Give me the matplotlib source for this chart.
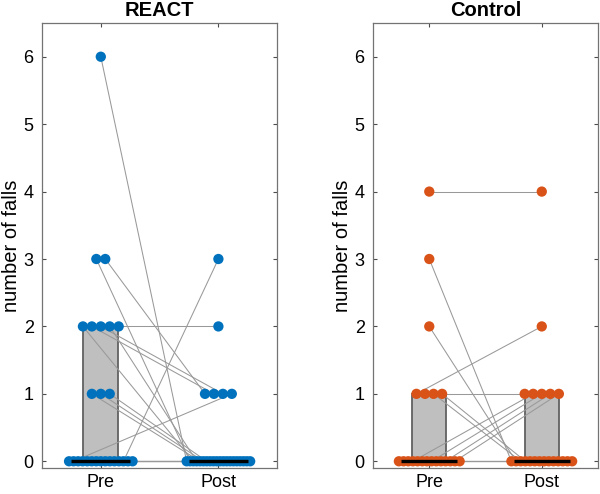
import matplotlib
matplotlib.use("Agg")
import matplotlib.pyplot as plt
import numpy as np
from matplotlib.patches import Rectangle

plt.rcParams['font.family'] = ['Liberation Sans', 'DejaVu Sans']

# --- Data: number of falls per subject (paired Pre / Post) ---
groups = ["REACT", "Control"]
timepoints = ["Pre", "Post"]

react_pre = [6, 3, 3, 2, 2, 2, 2, 2, 1, 1, 1,
             0, 0, 0, 0, 0, 0, 0, 0, 0, 0, 0, 0, 0, 0, 0]
react_post = [0, 0, 1, 0, 1, 1, 0, 2, 0, 0, 0,
              0, 1, 0, 0, 0, 0, 0, 0, 0, 0, 0, 0, 3, 0, 0]

control_pre = [4, 3, 2, 1, 1, 1, 1,
               0, 0, 0, 0, 0, 0, 0, 0, 0, 0, 0, 0, 0, 0]
control_post = [4, 0, 0, 2, 1, 0, 0,
                0, 0, 0, 1, 0, 0, 0, 1, 0, 0, 1, 0, 1, 0]

group_data = {
    "REACT": (react_pre, react_post),
    "Control": (control_pre, control_post),
}
group_colors = {
    "REACT": (0.0, 0.447, 0.741),
    "Control": (0.85, 0.325, 0.098),
}


def swarm_offsets(values, step=0.038, max_w=0.27):
    """Spread points that share a value symmetrically around the centre."""
    values = np.asarray(values)
    offs = np.zeros(len(values))
    for v in np.unique(values):
        idx = np.where(values == v)[0]
        k = len(idx)
        if k > 1:
            w = min(max_w, step * (k - 1))
            offs[idx] = np.linspace(-w, w, k)
    return offs


fig = plt.figure(figsize=(6.0, 4.94), dpi=100)
ax_pos = {
    "REACT": [0.070, 0.0526, 0.392, 0.9008],
    "Control": [0.6217, 0.0526, 0.375, 0.9008],
}

for name in groups:
    pre, post = group_data[name]
    color = group_colors[name]
    ax = fig.add_axes(ax_pos[name])

    xs = []
    for i, vals in enumerate((pre, post)):
        xs.append(i + 1 + swarm_offsets(vals))

    # --- boxes (IQR), median line, points above the box ---
    for i, vals in enumerate((pre, post)):
        c = i + 1
        q1, med, q3 = np.percentile(vals, [25, 50, 75])
        ax.add_patch(Rectangle((c - 0.15, q1), 0.3, q3 - q1,
                               facecolor=(0.75, 0.75, 0.75),
                               edgecolor=(0.38, 0.38, 0.38),
                               linewidth=1.3, zorder=1))
        outl = np.unique([v for v in vals if v > q3])
        ax.plot(np.full(len(outl), c), outl, '.', color='red',
                markersize=1.8, zorder=2)
        ax.plot([c - 0.25, c + 0.25], [med, med], color='black',
                linewidth=2.4, solid_capstyle='butt', zorder=5)

    # --- paired lines ---
    for j in range(len(pre)):
        ax.plot([xs[0][j], xs[1][j]], [pre[j], post[j]],
                color=(0.6, 0.6, 0.6), linewidth=0.75, zorder=3)

    # --- points ---
    for i, vals in enumerate((pre, post)):
        ax.scatter(xs[i], vals, s=55, color=color, edgecolors='none',
                   zorder=4)

    ax.set_xlim(0.5, 2.5)
    ax.set_ylim(-0.1, 6.5)
    ax.set_xticks([1, 2])
    ax.set_xticklabels(timepoints)
    ax.set_yticks(range(0, 7))
    ax.tick_params(direction='in', length=3, width=0.8, labelsize=13,
                   top=True, right=True, color=(0.3, 0.3, 0.3))
    ax.tick_params(axis='y', pad=6)
    ax.tick_params(axis='x', pad=4)
    for sp in ax.spines.values():
        sp.set_color((0.45, 0.45, 0.45))
        sp.set_linewidth(0.9)
    ax.set_ylabel("number of falls", fontsize=14.5, labelpad=2)
    ax.set_title(name, fontsize=14.5, fontweight='bold', pad=5)

plt.savefig("out.png", dpi=100)
